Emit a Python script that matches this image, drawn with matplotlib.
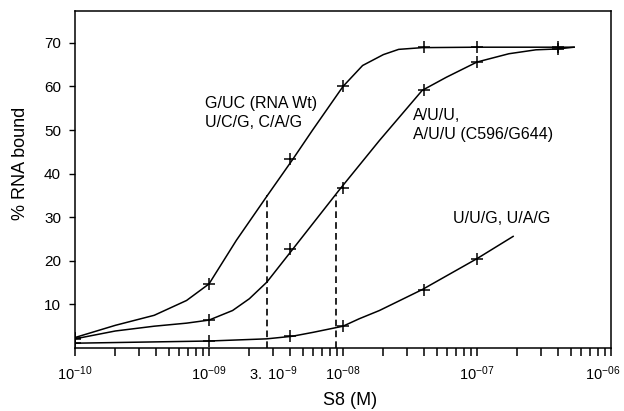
import matplotlib
matplotlib.use("Agg")
import matplotlib.pyplot as plt
import matplotlib.transforms as mtransforms

# concentrations (M) where measurements were taken
conc_pts = [1e-10, 1e-9, 4e-9, 1e-8, 4e-8, 1e-7, 4e-7]
wt_pts = [2.4, 14.7, 43.3, 60.0, 69.0, 69.0, 69.0]
auu_pts = [2.1, 6.4, 22.6, 36.8, 59.2, 65.6, 68.6]
uug_conc = [1e-10, 1e-9, 4e-9, 1e-8, 4e-8, 1e-7]
uug_pts = [1.1, 1.6, 2.7, 5.0, 13.4, 20.5]

# fitted curves
wt_curve_x = [1e-10, 2e-10, 3.9e-10, 6.8e-10, 1e-9, 1.6e-9, 2.7e-9, 4.2e-9,
              5.9e-9, 1e-8, 1.4e-8, 2.0e-8, 2.6e-8, 3.9e-8, 1e-7, 4e-7, 5.3e-7]
wt_curve_y = [2.4, 5.2, 7.5, 10.9, 14.7, 24.7, 34.8, 43.2,
              49.9, 60.0, 64.8, 67.3, 68.5, 68.9, 69.0, 69.0, 69.0]
auu_curve_x = [1e-10, 2e-10, 3.9e-10, 6.8e-10, 1e-9, 1.5e-9, 2.0e-9, 2.7e-9,
               4.2e-9, 9.4e-9, 1.87e-8, 3.9e-8, 5.9e-8, 1e-7, 1.73e-7,
               2.75e-7, 4e-7, 5.3e-7]
auu_curve_y = [2.1, 3.9, 5.0, 5.7, 6.4, 8.6, 11.3, 15.1,
               22.6, 36.3, 47.6, 59.1, 62.1, 65.6, 67.5,
               68.4, 68.6, 69.0]
uug_curve_x = [1e-10, 1e-9, 2.7e-9, 4.2e-9, 6e-9, 1e-8, 1.32e-8, 1.87e-8,
               3.9e-8, 1e-7, 1.86e-7]
uug_curve_y = [1.1, 1.6, 2.1, 2.7, 3.6, 5.0, 6.7, 8.6, 13.4, 20.5, 25.6]

# half-maximal binding markers
half_x = [2.7e-9, 8.9e-9]
half_y = 35

xtick_vals = [1e-10, 1e-9, 3e-9, 1e-8, 1e-7, 1e-6]
xtick_labels = [r"$\mathregular{10^{-10}}$", r"$\mathregular{10^{-09}}$",
                r"$\mathregular{3.\ 10^{-9}}$", r"$\mathregular{10^{-08}}$",
                r"$\mathregular{10^{-07}}$", r"$\mathregular{10^{-06}}$"]
ytick_vals = [10, 20, 30, 40, 50, 60, 70]

plt.rcParams["font.family"] = "Liberation Sans"
plt.rcParams["mathtext.fontset"] = "custom"
plt.rcParams["mathtext.rm"] = "Liberation Sans"
plt.rcParams["mathtext.it"] = "Liberation Sans:italic"
plt.rcParams["mathtext.bf"] = "Liberation Sans:bold"

fig = plt.figure(figsize=(6.24, 4.11), dpi=100)
ax = fig.add_axes([0.1202, 0.1533, 0.8590, 0.8199])

lw = 1.1
ax.plot(wt_curve_x, wt_curve_y, color="black", lw=lw)
ax.plot(auu_curve_x, auu_curve_y, color="black", lw=lw)
ax.plot(uug_curve_x, uug_curve_y, color="black", lw=lw)
for xs, ys in ((conc_pts, wt_pts), (conc_pts, auu_pts), (uug_conc, uug_pts)):
    ax.plot(xs, ys, linestyle="none", marker="+", ms=8, mew=1.1, color="black")

for hx in half_x:
    ax.plot([hx, hx], [0, half_y], color="black", lw=1.2, linestyle=(0, (4, 2.5)))

ax.set_xscale("log")
ax.set_xlim(1e-10, 1e-6)
ax.set_ylim(0, 77.3)
ax.set_xticks(xtick_vals)
ax.set_xticklabels(xtick_labels, fontsize=10.5)
ax.set_yticks(ytick_vals)
ax.set_yticklabels([str(v) for v in ytick_vals], fontsize=11)
ax.tick_params(axis="x", which="both", direction="out", length=6, width=1.1, pad=6)
ax.tick_params(axis="y", direction="out", length=4, width=1.0, pad=6)
for sp in ax.spines.values():
    sp.set_linewidth(1.1)

# last label sits against the right edge of the page, nudge it left
last = ax.get_xticklabels()[-1]
last.set_transform(last.get_transform()
                   + mtransforms.ScaledTranslation(-6 / 72, 0, fig.dpi_scale_trans))

ax.set_ylabel("% RNA bound", fontsize=13)
ax.yaxis.set_label_coords(-0.086, 0.549)
ax.set_xlabel("S8 (M)", fontsize=13)
ax.xaxis.set_label_coords(0.513, -0.132)

ax.text(9.3e-10, 54.0, "G/UC (RNA Wt)\nU/C/G, C/A/G", fontsize=11.5,
        linespacing=1.34, va="center", ha="left")
ax.text(3.34e-8, 51.1, "A/U/U,\nA/U/U (C596/G644)", fontsize=11.5,
        linespacing=1.34, va="center", ha="left")
ax.text(6.65e-8, 29.7, "U/U/G, U/A/G", fontsize=11.5, va="center", ha="left")

fig.savefig("out.png", dpi=100)
